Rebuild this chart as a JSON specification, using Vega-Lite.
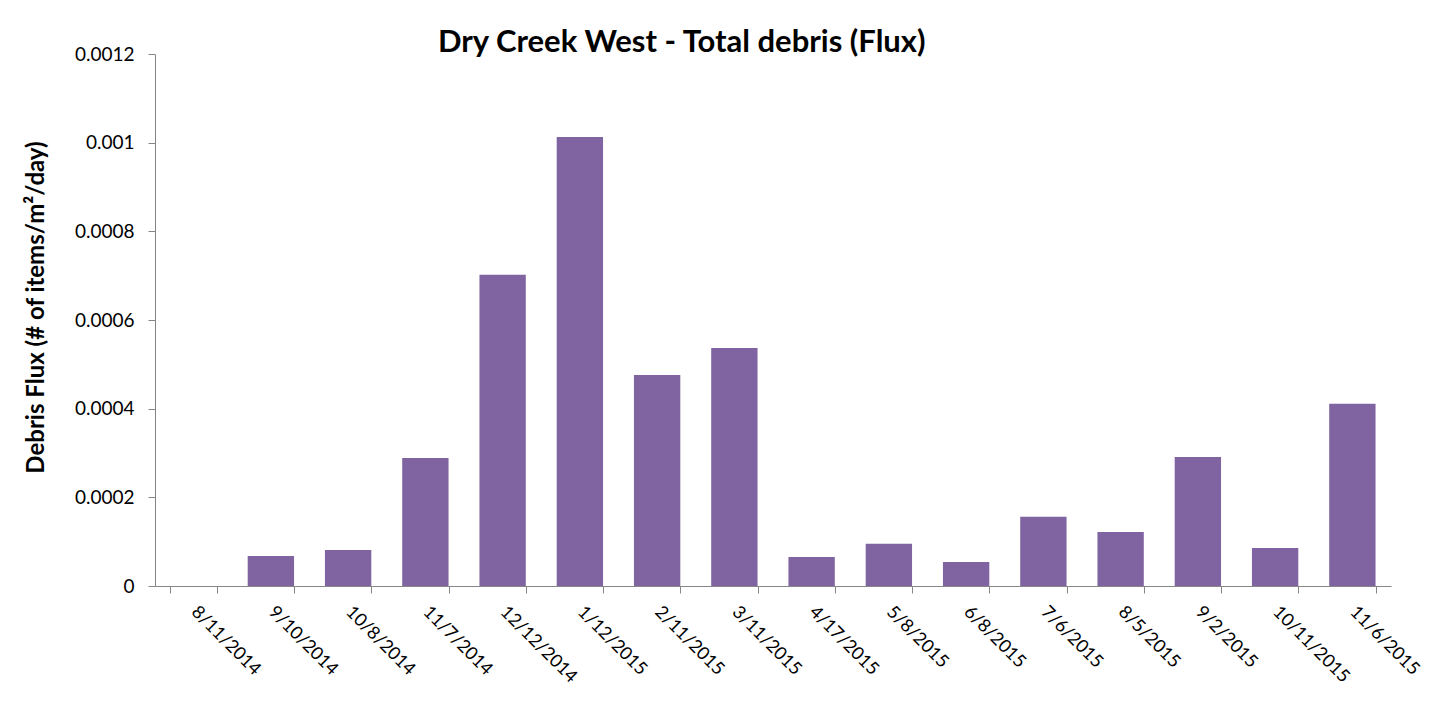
{
  "$schema": "https://vega.github.io/schema/vega-lite/v6.json",
  "width": 1236,
  "height": 532,
  "autosize": {"type": "none"},
  "padding": {"left": 155, "top": 54, "right": 53, "bottom": 123},
  "background": "white",
  "title": {
    "text": "Dry Creek West - Total debris (Flux)",
    "font": "Lato",
    "fontSize": 31,
    "fontWeight": "bold",
    "color": "black",
    "anchor": "start",
    "frame": "group",
    "dx": 283,
    "dy": 35,
    "baseline": "alphabetic",
    "offset": -3
  },
  "data": {
    "values": [
      {"date": "8/11/2014", "flux": 0},
      {"date": "9/10/2014", "flux": 0.0000677},
      {"date": "10/8/2014", "flux": 0.0000812},
      {"date": "11/7/2014", "flux": 0.000289},
      {"date": "12/12/2014", "flux": 0.000702},
      {"date": "1/12/2015", "flux": 0.001013},
      {"date": "2/11/2015", "flux": 0.000476},
      {"date": "3/11/2015", "flux": 0.000537},
      {"date": "4/17/2015", "flux": 0.0000654},
      {"date": "5/8/2015", "flux": 0.0000954},
      {"date": "6/8/2015", "flux": 0.0000541},
      {"date": "7/6/2015", "flux": 0.000156},
      {"date": "8/5/2015", "flux": 0.000122},
      {"date": "9/2/2015", "flux": 0.000291},
      {"date": "10/11/2015", "flux": 0.0000857},
      {"date": "11/6/2015", "flux": 0.000411}
    ]
  },
  "mark": {"type": "bar", "color": "#8064A2"},
  "encoding": {
    "x": {
      "field": "date",
      "type": "nominal",
      "sort": null,
      "scale": {"paddingInner": 0.4, "paddingOuter": 0.2},
      "axis": {
        "title": null,
        "tickBand": "extent",
        "labelAngle": 45,
        "labelAlign": "left",
        "labelBaseline": "middle",
        "labelFont": "Lato",
        "labelFontSize": 18,
        "labelColor": "black",
        "labelPadding": 16,
        "domainColor": "#868686",
        "tickColor": "#868686",
        "tickSize": 7,
        "labelOverlap": false
      }
    },
    "y": {
      "field": "flux",
      "type": "quantitative",
      "scale": {"domain": [0, 0.0012], "nice": false},
      "axis": {
        "title": "Debris Flux (# of items/m²/day)",
        "titleFont": "Lato",
        "titleFontSize": 24,
        "titleFontWeight": "bold",
        "titleColor": "black",
        "titleX": -119,
        "titleY": 253,
        "titleBaseline": "middle",
        "values": [0, 0.0002, 0.0004, 0.0006, 0.0008, 0.001, 0.0012],
        "format": ".4~f",
        "grid": false,
        "labelFont": "Lato",
        "labelFontSize": 19,
        "labelColor": "black",
        "labelPadding": 14,
        "domainColor": "#868686",
        "tickColor": "#868686",
        "tickSize": 7
      }
    }
  },
  "config": {"view": {"stroke": null}}
}
